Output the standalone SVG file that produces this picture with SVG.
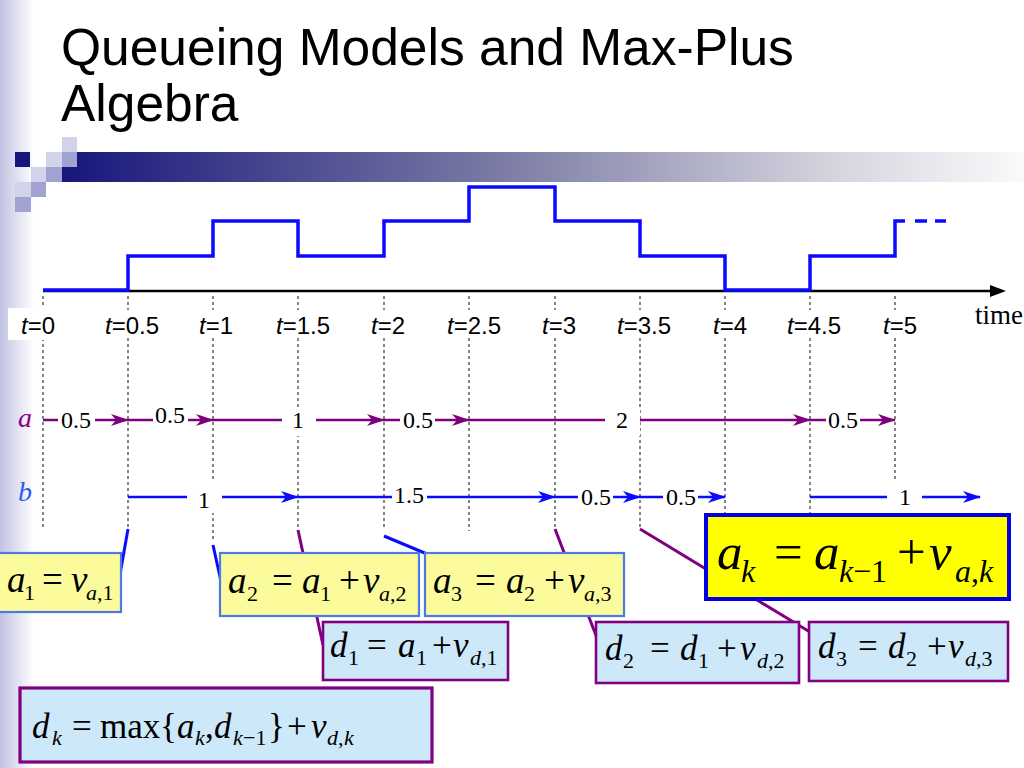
<svg xmlns="http://www.w3.org/2000/svg" width="1024" height="768" viewBox="0 0 1024 768">
<defs>
<linearGradient id="leftg" x1="0" y1="0" x2="1" y2="0">
<stop offset="0" stop-color="#c2c2e4"/>
<stop offset="1" stop-color="#ffffff"/>
</linearGradient>
<linearGradient id="bandg" x1="62" y1="0" x2="1024" y2="0" gradientUnits="userSpaceOnUse">
<stop offset="0" stop-color="#16167c"/>
<stop offset="0.45" stop-color="#7a7aa4"/>
<stop offset="0.8" stop-color="#d4d4de"/>
<stop offset="1" stop-color="#fafafc"/>
</linearGradient>
<marker id="arrP" markerUnits="userSpaceOnUse" markerWidth="18" markerHeight="12" refX="17" refY="6" orient="auto">
<path d="M0,0 L18,6 L0,12 L5,6 Z" fill="#800080"/>
</marker>
<marker id="arrB" markerUnits="userSpaceOnUse" markerWidth="18" markerHeight="12" refX="17" refY="6" orient="auto">
<path d="M0,0 L18,6 L0,12 L5,6 Z" fill="#0a0aff"/>
</marker>
<style>
.title{font-family:"Liberation Sans",Arial,sans-serif;font-size:51.5px;fill:#000}
.tick{font-family:"Liberation Sans",Arial,sans-serif;font-size:24px;fill:#000;text-anchor:middle}
.it{font-style:italic}
.dash{stroke:#333;stroke-width:1.2;stroke-dasharray:3 3;fill:none}
.rowP{stroke:#800080;stroke-width:2.6;marker-end:url(#arrP)}
.rowB{stroke:#0a0aff;stroke-width:2.6;marker-end:url(#arrB)}
.lbg{fill:#fff}
.lbl{font-family:"Liberation Serif","Times New Roman",serif;font-size:24px;fill:#000;text-anchor:middle}
.conB{stroke:#0a0aff;stroke-width:3;fill:none}
.conP{stroke:#800080;stroke-width:3;fill:none}
.boxA{fill:#fbfb9c;stroke:#4a7ae6;stroke-width:2.2}
.boxD{fill:#cde8f9;stroke:#800080;stroke-width:2.6}
.boxK{fill:#ffff00;stroke:#0000e0;stroke-width:4}
.m{font-family:"Liberation Serif","Times New Roman",serif;fill:#000}
.m36{font-size:37px}
.m22{font-size:22px}
.m50{font-size:51px}
.m32{font-size:32px}
.m34{font-size:35px}
</style>
</defs>
<rect x="0" y="0" width="1024" height="768" fill="#ffffff"/>
<rect x="0" y="0" width="34" height="768" fill="url(#leftg)"/>

<g id="title">
<text class="title" x="61" y="65">Queueing Models and Max-Plus</text>
<text class="title" x="61" y="121">Algebra</text>
</g>

<g id="header-band">
<rect x="62" y="152" width="962" height="30" fill="url(#bandg)"/>
<rect x="15" y="152" width="15" height="15" fill="#16167c"/>
<rect x="46" y="152" width="16" height="15" fill="#d2d2ea"/>
<rect x="62" y="137" width="15" height="15" fill="#d2d2ea"/>
<rect x="62" y="152" width="15" height="15" fill="#a2a2d2"/>
<rect x="31" y="167" width="15" height="15" fill="#d2d2ea"/>
<rect x="46" y="167" width="16" height="15" fill="#a2a2d2"/>
<rect x="15" y="182" width="16" height="15" fill="#d2d2ea"/>
<rect x="31" y="182" width="15" height="15" fill="#a2a2d2"/>
<rect x="15" y="197" width="16" height="15" fill="#a2a2d2"/>
</g>

<g id="time-axis">
<line x1="43" y1="291" x2="993" y2="291" stroke="#000" stroke-width="2.5"/>
<polygon points="990,285 1006,291 990,297" fill="#000"/>
<text x="975" y="324" font-family="Liberation Serif, Times New Roman, serif" font-size="27" fill="#000">time</text>
</g>

<g id="queue-length">
<path d="M43,290 H128 V256 H213 V221 H298 V256 H384 V221 H469 V187 H555 V221 H640 V256 H725 V290 H810 V256 H895 V221 H905" fill="none" stroke="#0a0aff" stroke-width="3.5"/>
<path d="M915,221 H927 M935,221 H946" fill="none" stroke="#0a0aff" stroke-width="3.5"/>
</g>

<g id="dashed-lines">
<path class="dash" d="M43,296 V310 M128,296 V310 M213,296 V310 M298,296 V310 M384,296 V310 M469,296 V310 M555,296 V310 M640,296 V310 M725,296 V310 M810,296 V310 M895,296 V310"/>
<path class="dash" d="M43,338 V530 M128,338 V529 M213,338 V542 M298,338 V530 M384,338 V530 M469,338 V531 M555,338 V529 M640,338 V529 M725,338 V516 M810,338 V516 M895,338 V512"/>
</g>

<g id="tick-labels">
<rect x="8" y="308" width="54" height="32" fill="#fff"/>
<text class="tick" x="38" y="334"><tspan class="it">t</tspan>=0</text>
<text class="tick" x="132" y="334"><tspan class="it">t</tspan>=0.5</text>
<text class="tick" x="216" y="334"><tspan class="it">t</tspan>=1</text>
<text class="tick" x="303" y="334"><tspan class="it">t</tspan>=1.5</text>
<text class="tick" x="388" y="334"><tspan class="it">t</tspan>=2</text>
<text class="tick" x="474" y="334"><tspan class="it">t</tspan>=2.5</text>
<text class="tick" x="559" y="334"><tspan class="it">t</tspan>=3</text>
<text class="tick" x="644" y="334"><tspan class="it">t</tspan>=3.5</text>
<text class="tick" x="730" y="334"><tspan class="it">t</tspan>=4</text>
<text class="tick" x="814" y="334"><tspan class="it">t</tspan>=4.5</text>
<text class="tick" x="900" y="334"><tspan class="it">t</tspan>=5</text>
</g>

<g id="row-labels">
<text x="18" y="427" font-family="Liberation Serif, Times New Roman, serif" font-size="28" font-style="italic" fill="#8b008b">a</text>
<text x="18" y="501" font-family="Liberation Serif, Times New Roman, serif" font-size="28" font-style="italic" fill="#2a5cf0">b</text>
</g>

<g id="connectors">
<line class="rowP" x1="43" y1="420" x2="128" y2="420"/>
<line class="rowP" x1="128" y1="420" x2="213" y2="420"/>
<line class="rowP" x1="213" y1="420" x2="384" y2="420"/>
<line class="rowP" x1="384" y1="420" x2="469" y2="420"/>
<line class="rowP" x1="469" y1="420" x2="810" y2="420"/>
<line class="rowP" x1="810" y1="420" x2="895" y2="420"/>
<line class="rowB" x1="128" y1="497" x2="298" y2="497"/>
<line class="rowB" x1="298" y1="497" x2="555" y2="497"/>
<line class="rowB" x1="555" y1="497" x2="640" y2="497"/>
<line class="rowB" x1="640" y1="497" x2="725" y2="497"/>
<line class="rowB" x1="810" y1="497" x2="980" y2="497"/>
<line class="conB" x1="128" y1="529" x2="119" y2="580"/>
<line class="conB" x1="213" y1="545" x2="222" y2="586"/>
<line class="conP" x1="298" y1="530" x2="323" y2="645"/>
<line class="conB" x1="384" y1="536" x2="427" y2="554"/>
<line class="conP" x1="555" y1="529" x2="597" y2="638"/>
<line class="conP" x1="640" y1="529" x2="810" y2="632"/>
</g>

<g id="interval-labels">
<rect class="lbg" x="58" y="408" width="37" height="28"/>
<text class="lbl" x="76" y="428">0.5</text>
<rect class="lbg" x="153" y="404" width="35" height="28"/>
<text class="lbl" x="170" y="423">0.5</text>
<rect class="lbg" x="282" y="408" width="34" height="28"/>
<text class="lbl" x="298" y="428">1</text>
<rect class="lbg" x="400" y="408" width="35" height="28"/>
<text class="lbl" x="418" y="428">0.5</text>
<rect class="lbg" x="605" y="408" width="35" height="28"/>
<text class="lbl" x="622" y="428">2</text>
<rect class="lbg" x="826" y="408" width="34" height="28"/>
<text class="lbl" x="843" y="428">0.5</text>
<rect class="lbg" x="187" y="480" width="35" height="33"/>
<text class="lbl" x="204" y="508">1</text>
<rect class="lbg" x="392" y="480" width="35" height="30"/>
<text class="lbl" x="409" y="503">1.5</text>
<rect class="lbg" x="578" y="480" width="35" height="30"/>
<text class="lbl" x="596" y="505">0.5</text>
<rect class="lbg" x="663" y="480" width="35" height="30"/>
<text class="lbl" x="681" y="505">0.5</text>
<rect class="lbg" x="887" y="479" width="35" height="32"/>
<text class="lbl" x="905" y="505">1</text>
</g>

<g id="box-a1">
<rect class="boxA" x="-3" y="553" width="124" height="59"/>
<text class="m m36"><tspan class="it" x="7" y="592">a</tspan><tspan class="m22" x="24" y="600">1</tspan><tspan x="42" y="592">=</tspan><tspan class="it" x="71" y="592">v</tspan><tspan class="m22 it" x="86" y="600">a</tspan><tspan class="m22" x="97" y="600">,1</tspan></text>
</g>

<g id="box-a2">
<rect class="boxA" x="220" y="553" width="199" height="63"/>
<text class="m m36"><tspan class="it" x="228" y="593">a</tspan><tspan class="m22" x="247" y="601">2</tspan><tspan x="272" y="593">=</tspan><tspan class="it" x="302" y="593">a</tspan><tspan class="m22" x="320" y="601">1</tspan><tspan x="339" y="593">+</tspan><tspan class="it" x="363" y="593">v</tspan><tspan class="m22 it" x="379" y="601">a</tspan><tspan class="m22" x="390" y="601">,2</tspan></text>
</g>

<g id="box-a3">
<rect class="boxA" x="425" y="553" width="199" height="63"/>
<text class="m m36"><tspan class="it" x="433" y="593">a</tspan><tspan class="m22" x="451" y="601">3</tspan><tspan x="475" y="593">=</tspan><tspan class="it" x="506" y="593">a</tspan><tspan class="m22" x="524" y="601">2</tspan><tspan x="544" y="593">+</tspan><tspan class="it" x="568" y="593">v</tspan><tspan class="m22 it" x="584" y="601">a</tspan><tspan class="m22" x="595" y="601">,3</tspan></text>
</g>

<g id="box-d1">
<rect class="boxD" x="323" y="622" width="185" height="58"/>
<text class="m m34"><tspan class="it" x="330" y="657">d</tspan><tspan class="m22" x="348" y="665">1</tspan><tspan x="367" y="657">=</tspan><tspan class="it" x="398" y="657">a</tspan><tspan class="m22" x="416" y="665">1</tspan><tspan x="432" y="657">+</tspan><tspan class="it" x="453" y="657">v</tspan><tspan class="m22 it" x="470" y="665">d</tspan><tspan class="m22" x="481" y="665">,1</tspan></text>
</g>

<g id="box-d2">
<rect class="boxD" x="596" y="622" width="203" height="61"/>
<text class="m m34"><tspan class="it" x="605" y="660">d</tspan><tspan class="m22" x="623" y="668">2</tspan><tspan x="650" y="660">=</tspan><tspan class="it" x="680" y="660">d</tspan><tspan class="m22" x="698" y="668">1</tspan><tspan x="717" y="660">+</tspan><tspan class="it" x="740" y="660">v</tspan><tspan class="m22 it" x="757" y="668">d</tspan><tspan class="m22" x="768" y="668">,2</tspan></text>
</g>

<g id="box-d3">
<rect class="boxD" x="809" y="622" width="199" height="59"/>
<text class="m m34"><tspan class="it" x="818" y="658">d</tspan><tspan class="m22" x="836" y="666">3</tspan><tspan x="858" y="658">=</tspan><tspan class="it" x="888" y="658">d</tspan><tspan class="m22" x="906" y="666">2</tspan><tspan x="927" y="658">+</tspan><tspan class="it" x="948" y="658">v</tspan><tspan class="m22 it" x="965" y="666">d</tspan><tspan class="m22" x="976" y="666">,3</tspan></text>
</g>

<g id="box-ak">
<rect class="boxK" x="706" y="515" width="303" height="84"/>
<text class="m m50"><tspan class="it" x="717" y="569">a</tspan><tspan class="m32 it" x="741" y="582">k</tspan><tspan x="774" y="569">=</tspan><tspan class="it" x="814" y="569">a</tspan><tspan class="m32 it" x="839" y="582">k</tspan><tspan class="m32" x="853" y="582">−1</tspan><tspan x="897" y="569">+</tspan><tspan class="it" x="929" y="569">v</tspan><tspan class="m32 it" x="955" y="582">a</tspan><tspan class="m32" x="971" y="582">,</tspan><tspan class="m32 it" x="979" y="582">k</tspan></text>
</g>

<g id="box-dk">
<rect class="boxD" x="20" y="688" width="412" height="74" style="stroke-width:3.2"/>
<text class="m m34"><tspan class="it" x="32" y="738">d</tspan><tspan class="m22 it" x="52" y="745">k</tspan><tspan x="72" y="738">=</tspan><tspan x="100" y="738">max</tspan><tspan x="160" y="738">{</tspan><tspan class="it" x="177" y="738">a</tspan><tspan class="m22 it" x="195" y="745">k</tspan><tspan x="205" y="738">,</tspan><tspan class="it" x="214" y="738">d</tspan><tspan class="m22 it" x="233" y="745">k</tspan><tspan class="m22" x="243" y="745">−1</tspan><tspan x="268" y="738">}</tspan><tspan x="287" y="738">+</tspan><tspan class="it" x="311" y="738">v</tspan><tspan class="m22 it" x="327" y="745">d</tspan><tspan class="m22" x="338" y="745">,</tspan><tspan class="m22 it" x="344" y="745">k</tspan></text>
</g>
</svg>
